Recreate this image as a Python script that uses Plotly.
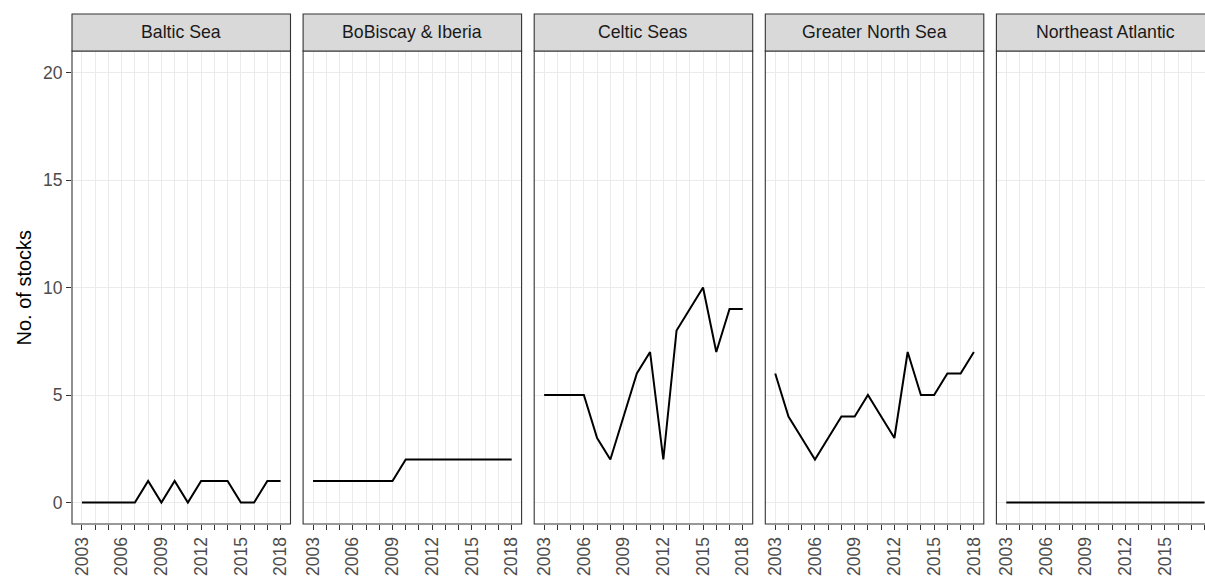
import plotly.graph_objects as go

# Number of stocks per ecoregion, 2003-2018
years = list(range(2003, 2019))
regions = ["Baltic Sea", "BoBiscay & Iberia", "Celtic Seas", "Greater North Sea", "Northeast Atlantic"]
baltic_sea = [0, 0, 0, 0, 0, 1, 0, 1, 0, 1, 1, 1, 0, 0, 1, 1]
bobiscay_iberia = [1, 1, 1, 1, 1, 1, 1, 2, 2, 2, 2, 2, 2, 2, 2, 2]
celtic_seas = [5, 5, 5, 5, 3, 2, 4, 6, 7, 2, 8, 9, 10, 7, 9, 9]
greater_north_sea = [6, 4, 3, 2, 3, 4, 4, 5, 4, 3, 7, 5, 5, 6, 6, 7]
northeast_atlantic = [0, 0, 0, 0, 0, 0, 0, 0, 0, 0, 0, 0, 0, 0, 0, 0]
series = [baltic_sea, bobiscay_iberia, celtic_seas, greater_north_sea, northeast_atlantic]

y_ticks = [0, 5, 10, 15, 20]
x_tick_labels = [str(y) if (y - 2003) % 3 == 0 else "" for y in years]

W, H = 1205, 576
ML, MR, MT, MB = 72, 0, 51, 52
plot_w = W - ML - MR
plot_h = H - MT - MB
panel_w = 218.5
step = 231.1
strip_h = 37

FONT = "Liberation Sans, Arial, Helvetica, sans-serif"
BORDER = "#333333"
GRID = "#ebebeb"

fig = go.Figure()
shapes = []
annotations = []

for i, (name, vals) in enumerate(zip(regions, series)):
    left = i * step
    right = left + panel_w
    d0 = left / plot_w
    d1 = min(right / plot_w, 1.0)
    suffix = "" if i == 0 else str(i + 1)
    xa = "x" + suffix
    ya = "y" + suffix
    last = right > plot_w

    fig.add_trace(go.Scatter(
        x=years, y=vals, mode="lines",
        line=dict(color="black", width=2),
        xaxis=xa, yaxis=ya, showlegend=False, hoverinfo="x+y",
    ))

    # x range: the last panel runs off the page edge just past 2018
    x_lo = 2002.25
    x_hi = 2018.03 if last else 2018.75

    fig.layout["xaxis" + suffix] = dict(
        domain=[d0, d1], range=[x_lo, x_hi], anchor=ya,
        tickmode="array", tickvals=years, ticktext=x_tick_labels,
        tickangle=-90, ticks="outside", ticklen=5, tickwidth=1.3, tickcolor=BORDER,
        tickfont=dict(family=FONT, size=17.5, color="#4d4d4d"),
        showgrid=True, gridcolor=GRID, gridwidth=1,
        zeroline=False, showline=False, fixedrange=True,
    )
    fig.layout["yaxis" + suffix] = dict(
        domain=[0, 1], range=[-1, 21], anchor=xa,
        tickmode="array", tickvals=y_ticks,
        showticklabels=(i == 0),
        ticks="outside" if i == 0 else "", ticklen=5, tickwidth=1.3, tickcolor=BORDER,
        tickfont=dict(family=FONT, size=17.5, color="#4d4d4d"),
        showgrid=True, gridcolor=GRID, gridwidth=1,
        zeroline=False, showline=False, fixedrange=True,
    )

    # panel border and facet strip, in paper coordinates
    px0 = left / plot_w
    px1 = right / plot_w
    shapes.append(dict(type="rect", xref="paper", yref="paper",
                       x0=px0, x1=px1, y0=0, y1=1,
                       line=dict(color=BORDER, width=1.1), fillcolor="rgba(0,0,0,0)",
                       layer="above"))
    shapes.append(dict(type="rect", xref="paper", yref="paper",
                       x0=px0, x1=px1, y0=1, y1=1 + strip_h / plot_h,
                       line=dict(color=BORDER, width=1.1), fillcolor="#d9d9d9",
                       layer="above"))
    annotations.append(dict(text=name, xref="paper", yref="paper",
                            x=(px0 + px1) / 2, y=1 + strip_h / 2 / plot_h,
                            xanchor="center", yanchor="middle", showarrow=False,
                            font=dict(family=FONT, size=17.7, color="#1a1a1a")))

annotations.append(dict(text="No. of stocks", xref="paper", yref="paper",
                        x=-(ML - 23) / plot_w, y=0.5, xanchor="center", yanchor="middle",
                        textangle=-90, showarrow=False,
                        font=dict(family=FONT, size=20, color="black")))

fig.update_layout(
    width=W, height=H,
    margin=dict(l=ML, r=MR, t=MT, b=MB, pad=0),
    paper_bgcolor="white", plot_bgcolor="white",
    shapes=shapes, annotations=annotations,
    showlegend=False,
)

fig.write_html("out.html", config={"displayModeBar": False})
